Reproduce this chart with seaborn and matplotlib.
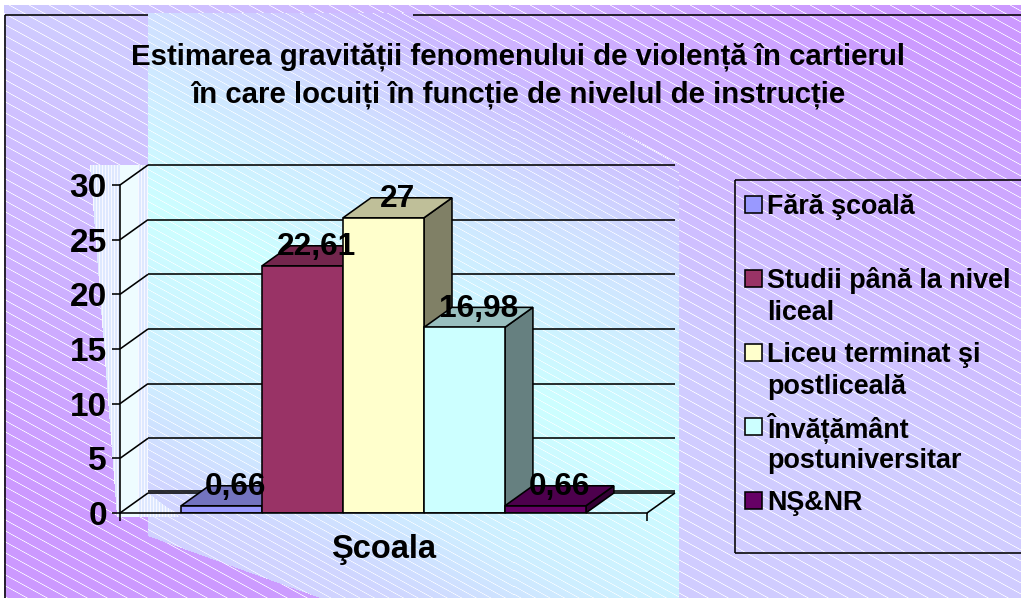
import numpy as np
import pandas as pd
import matplotlib
matplotlib.use("Agg")
import matplotlib.pyplot as plt
from matplotlib.patches import Polygon, Rectangle
from matplotlib.path import Path
from matplotlib.transforms import IdentityTransform
import seaborn as sns

# ---- data ----
series = ["Fără şcoală", "Studii până la nivel liceal", "Liceu terminat şi postliceală",
          "Învățământ postuniversitar", "NŞ&NR"]
legend_lines = [["Fără şcoală"], ["Studii până la nivel", "liceal"], ["Liceu terminat şi", "postliceală"],
                ["Învățământ", "postuniversitar"], ["NŞ&NR"]]
values = [0.66, 22.61, 27, 16.98, 0.66]
value_labels = ["0,66", "22,61", "27", "16,98", "0,66"]
colors = ["#9999FF", "#993366", "#FFFFCC", "#CCFFFF", "#660066"]
category = "Şcoala"
yticks = [0, 5, 10, 15, 20, 25, 30]
title_lines = ["Estimarea gravității fenomenului de violență în cartierul",
               "în care locuiți în funcție de nivelul de instrucție"]

W, H = 1021, 598
DX, DY = 28, 20   # depth of the fake 3D box, pixels
LW = 1.15

sns.set_theme(style="white")
plt.rcParams["font.family"] = ["Liberation Sans", "DejaVu Sans"]
plt.rcParams["font.weight"] = "bold"
plt.rcParams["text.color"] = "black"
plt.rcParams["xtick.color"] = "black"
plt.rcParams["ytick.color"] = "black"

fig = plt.figure(figsize=(W / 100, H / 100), dpi=100)

# ---- background picture (gradient panels with white hatching) ----
X, Y = np.meshgrid(np.arange(W) + .5, np.arange(H) + .5)
S = Y - 0.5 * X
L = np.array([208, 204, 255.]); P = np.array([204, 153, 255.])
T = np.where(S < 0, np.clip(-S / 430, 0, 1), np.where(X < 678, np.clip(S / 480, 0, 1), 0))[..., None]
img = L * (1 - T) + P * T

stops = [-260, -185, -60, 130, 300, 400, 470]
rgb = np.array([[204, 165, 255], [203, 182, 255], [208, 224, 255], [204, 255, 255],
                [206, 238, 255], [208, 214, 255], [208, 208, 255]], float)
panel_col = np.stack([np.interp(S, stops, rgb[:, k]) for k in range(3)], axis=-1)
pts = np.column_stack([X.ravel(), Y.ravel()])
panel = Path([(148, 13), (413, 13), (678, 165), (678, 598), (320, 598), (148, 536)]).contains_points(pts).reshape(X.shape)


def hatch(period, slope=0.55, width=0.75):
    d = np.mod(Y - slope * X, period)
    d = np.minimum(d, period - d)
    return np.clip(1.1 - d / width, 0, 1)[..., None] * 0.95


white = np.array([255, 255, 255.])
a = hatch(11.0)
img = img * (1 - a) + white * a
a = hatch(8.0, width=0.7) * 0.9
panel_img = panel_col * (1 - a) + white * a
img[panel] = panel_img[panel]

# plot-area strip with fine vertical stripes
strip = Path([(90, 165), (148, 165), (148, 493), (180, 517), (117, 517)]).contains_points(pts).reshape(X.shape)
strip_col = np.where((X.astype(int) % 3 == 0)[..., None], np.array([248, 248, 255.]), np.array([222, 232, 255.]))
img[strip] = strip_col[strip]
sidewall = strip & (X >= 120) & (X < 138)
img[sidewall] = np.array([238, 252, 255.])

img[:5, :] = 255
img[:, :4] = 255

bg = fig.add_axes([0, 0, 1, 1], zorder=0)
bg.imshow(np.clip(img, 0, 255).astype(np.uint8), extent=(0, W, H, 0), aspect="auto", interpolation="nearest")
bg.set_xlim(0, W); bg.set_ylim(H, 0); bg.axis("off")
for xs, ys in [((5, 5), (15, H)), ((5, 148), (15, 15)), ((413, W), (15, 15)),
               ((735, W), (180, 180)), ((735, 735), (180, 553)), ((735, W), (553, 553))]:
    bg.plot(xs, ys, color="black", lw=LW, solid_capstyle="butt")

# ---- bars ----
ax = fig.add_axes([120 / W, 1 - 513 / H, (647 - 120) / W, (513 - 185) / H], zorder=1)
ax.patch.set_visible(False)
df = pd.DataFrame({"group": [category] * len(series), "series": series, "value": values})
sns.barplot(data=df, x="group", y="value", hue="series", hue_order=series, palette=colors,
            width=0.768, gap=0, saturation=1, edgecolor="black", linewidth=LW, legend=False, ax=ax)
ax.set_xlim(-0.5, 0.5)
ax.set_ylim(0, 30)
ax.set_xlabel(""); ax.set_ylabel("")
ax.set_yticks(yticks)
ax.tick_params(axis="y", length=6, width=LW, pad=3.5, labelsize=24, color="black", labelcolor="black", left=True)
ax.tick_params(axis="x", which="major", length=0, pad=15, labelsize=23.5, labelcolor="black")
ax.set_xticks([-0.5, 0.5], minor=True)
ax.tick_params(axis="x", which="minor", length=6, width=LW, color="black", bottom=True)
sns.despine(ax=ax, top=True, right=True)
for side in ("left", "bottom"):
    ax.spines[side].set_color("black"); ax.spines[side].set_linewidth(LW)
    ax.spines[side].set_zorder(20)


def px(x, y):
    return ax.transData.transform((x, y))


def add_poly(points, fc, z):
    ax.add_patch(Polygon(points, closed=True, facecolor=fc, edgecolor="black", linewidth=LW,
                         transform=IdentityTransform(), zorder=z, clip_on=False, joinstyle="miter"))


def add_line(p, q, z=1.5, lw=LW):
    ax.plot([p[0], q[0]], [p[1], q[1]], color="black", lw=lw, transform=IdentityTransform(),
            zorder=z, clip_on=False, solid_capstyle="butt")


# walls: gridlines run from the value axis to the back wall
depth = np.array([DX, DY])
xmin, xmax = ax.get_xlim()
for v in yticks:
    a0 = px(xmin, v); b0 = a0 + depth; c0 = px(xmax, v) + depth
    add_line(a0, b0)
    add_line(b0, c0)
add_line(px(xmax, 0), px(xmax, 0) + depth)
add_line(px(xmin, 0) + depth + [0, 2], px(xmax, 0) + depth + [0, 2])

# bars with their top and side faces, painted left to right
bars = [p for p in ax.patches if isinstance(p, Rectangle) and p.get_height() > 0]
bars = sorted(bars, key=lambda p: p.get_x())
shade = lambda c, k: tuple(k * v for v in matplotlib.colors.to_rgb(c))
for i, (bar, col) in enumerate(zip(bars, colors)):
    x0, x1 = bar.get_x(), bar.get_x() + bar.get_width()
    h = bar.get_height()
    fl, fr, tl, tr = px(x0, 0), px(x1, 0), px(x0, h), px(x1, h)
    z = 3 + i
    add_poly([fr, fr + depth, tr + depth, tr], shade(col, 0.5), z)
    add_poly([tl, tl + depth, tr + depth, tr], shade(col, 0.75), z)
    bar.set_zorder(z + 0.5)
    ax.annotate(value_labels[i], xy=((x0 + x1) / 2, h), xytext=(10, 13.5), textcoords="offset points",
                ha="center", va="center", fontsize=22.8, fontweight="bold", color="black",
                zorder=15, annotation_clip=False)

# ---- title ----
for line, y in zip(title_lines, [57, 95]):
    fig.text(518 / W, 1 - y / H, line, ha="center", va="center", fontsize=21.2, fontweight="bold", color="black", zorder=5)

# ---- legend ----
rows = [205, 279, 353, 427, 501]
for lines, col, y in zip(legend_lines, colors, rows):
    bg.add_patch(Rectangle((745, y - 9), 17, 17, facecolor=col, edgecolor="black", linewidth=LW))
    for j, t in enumerate(lines):
        bg.text(767, y + 2 + j * 31.5, t, ha="left", va="center", fontsize=19.4, fontweight="bold", color="black", clip_on=True)

fig.savefig("out.png", dpi=100)
